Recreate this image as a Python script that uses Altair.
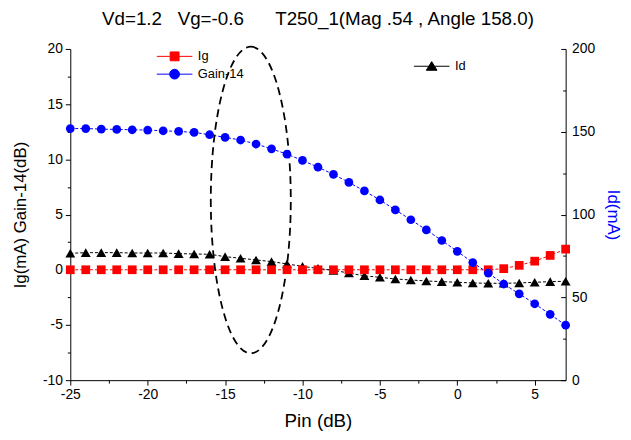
import altair as alt
import pandas as pd

FONT = "Liberation Sans"

pin = [-25, -24, -23, -22, -21, -20, -19, -18, -17, -16, -15, -14, -13, -12, -11, -10,
       -9, -8, -7, -6, -5, -4, -3, -2, -1, 0, 1, 2, 3, 4, 5, 6, 7]
ig = [0.0] * 28 + [0.1, 0.4, 0.78, 1.3, 1.87]
gain = [12.79, 12.79, 12.74, 12.71, 12.68, 12.65, 12.59, 12.53, 12.44, 12.23, 11.99, 11.75,
        11.39, 10.95, 10.47, 9.90, 9.29, 8.64, 7.91, 7.14, 6.32, 5.42, 4.53, 3.61, 2.65,
        1.67, 0.65, -0.30, -1.29, -2.18, -3.08, -4.04, -5.02]
id_ma = [76.6, 77.0, 77.0, 77.0, 76.8, 76.8, 76.8, 76.4, 76.2, 76.0, 74.6, 73.6, 72.6,
         71.6, 70.2, 68.7, 67.5, 66.3, 64.7, 63.0, 62.1, 61.1, 60.5, 59.9, 59.5, 59.1,
         58.7, 58.5, 58.5, 58.7, 59.1, 59.5, 59.7]

series_left = ["Ig", "Gain-14"]
colors_left = ["#ff0000", "#0000ff"]
series_right = ["Id"]
colors_right = ["#000000"]

x_major = [-25, -20, -15, -10, -5, 0, 5]
x_minor = [-22.5, -17.5, -12.5, -7.5, -2.5, 2.5]
yl_major = [-10, -5, 0, 5, 10, 15, 20]
yl_minor = [-7.5, -2.5, 2.5, 7.5, 12.5, 17.5]
yr_major = [0, 50, 100, 150, 200]
yr_minor = [25, 75, 125, 175]

# dashed ellipse annotation (centre in data units)
ell_x = [-13.34]
ell_y = [6.32]

NB = "\u00a0"
title_text = "Vd=1.2" + NB * 3 + "Vg=-0.6" + NB * 6 + "T250_1(Mag .54 , Angle 158.0)"

left_df = pd.DataFrame({
    "Pin": pin + pin,
    "val": ig + gain,
    "series": ["Ig"] * len(pin) + ["Gain-14"] * len(pin),
})
right_df = pd.DataFrame({"Pin": pin, "val": id_ma, "series": ["Id"] * len(pin)})
ell_df = pd.DataFrame({"cx": ell_x, "cy": ell_y})

XS = alt.Scale(domain=[-25, 7], nice=False, zero=False)
YL = alt.Scale(domain=[-10, 20], nice=False, zero=False)
YR = alt.Scale(domain=[0, 200], nice=False, zero=False)

ELLIPSE = ("M0,-1C0.1441,-1 0.261,-0.5523 0.261,0C0.261,0.5523 0.1441,1 0,1"
           "C-0.1441,1 -0.261,0.5523 -0.261,0C-0.261,-0.5523 -0.1441,-1 0,-1Z")
SQ = "M-2,0H2M-0.5,-0.5H0.5V0.5H-0.5Z"
CI = ("M-2,0H2M0.55,0C0.55,0.304 0.304,0.55 0,0.55C-0.304,0.55 -0.55,0.304 -0.55,0"
      "C-0.55,-0.304 -0.304,-0.55 0,-0.55C0.304,-0.55 0.55,-0.304 0.55,0Z")
TR = "M-2,0H2M0,-0.52L0.6,0.45L-0.6,0.45Z"

TICK_FS = 14
LEG_FS = 13
LABEL_EXPR = "'' + datum.value"

x_axis = alt.Axis(values=x_major, title="Pin (dB)", orient="bottom", tickSize=5,
                  labelFontSize=TICK_FS, titleFontSize=19, labelPadding=3,
                  titlePadding=10, grid=False, labelFlush=False, labelExpr=LABEL_EXPR)
x_minor_axis = alt.Axis(values=x_minor, title="", orient="bottom", labels=False,
                        domain=False, tickSize=3, grid=False)
yl_axis = alt.Axis(values=yl_major, title="Ig(mA) Gain-14(dB)", orient="left", tickSize=5,
                   labelFontSize=TICK_FS, titleFontSize=17, labelPadding=3,
                   titlePadding=13, grid=False, labelExpr=LABEL_EXPR)
yl_minor_axis = alt.Axis(values=yl_minor, title="", orient="left", labels=False,
                         domain=False, tickSize=3, grid=False)
yr_axis = alt.Axis(values=yr_major, title="Id(mA)", orient="right", ticks=False,
                   labelFontSize=TICK_FS, titleFontSize=17, labelPadding=6,
                   titlePadding=9, titleColor="#0000ff", grid=False, labelExpr=LABEL_EXPR)
yr_major_ticks = alt.Axis(values=yr_major, title="", orient="right", labels=False,
                          domain=False, tickSize=5, offset=-5, grid=False)
yr_minor_ticks = alt.Axis(values=yr_minor, title="", orient="right", labels=False,
                          domain=False, tickSize=3, offset=-3, grid=False)


def legend(x, y):
    return alt.Legend(orient="none", legendX=x, legendY=y, title=None,
                      labelFontSize=LEG_FS, labelFont=FONT, symbolSize=324,
                      labelOffset=14, padding=0, rowPadding=1, symbolStrokeWidth=1)


LEG_L = legend(96, -2)
LEG_R = legend(356, 8)

col_l = alt.Scale(domain=series_left, range=colors_left)
col_r = alt.Scale(domain=series_right, range=colors_right)

ellipse = alt.Chart(ell_df).mark_point(
    shape=ELLIPSE, size=96100, filled=False, stroke="black", strokeWidth=1.8,
    strokeDash=[8, 5], opacity=1
).encode(
    x=alt.X("cx:Q", scale=XS, axis=None),
    y=alt.Y("cy:Q", scale=YL, axis=None),
)

left_lines = alt.Chart(left_df).mark_line(strokeWidth=1, strokeDash=[3, 2]).encode(
    x=alt.X("Pin:Q", scale=XS, axis=x_axis),
    y=alt.Y("val:Q", scale=YL, axis=yl_axis),
    color=alt.Color("series:N", scale=col_l, legend=None),
)
left_points = alt.Chart(left_df).mark_point(filled=True, opacity=1, size=78).encode(
    x=alt.X("Pin:Q", scale=XS, axis=None),
    y=alt.Y("val:Q", scale=YL, axis=None),
    color=alt.Color("series:N", scale=col_l, legend=None),
    shape=alt.Shape("series:N", scale=alt.Scale(domain=series_left, range=["square", "circle"]),
                    legend=None),
)
left_legend = alt.Chart(left_df).transform_filter("false").mark_point(
    filled=True, size=324, opacity=1
).encode(
    fill=alt.Fill("series:N", scale=col_l, legend=LEG_L),
    stroke=alt.Stroke("series:N", scale=col_l, legend=LEG_L),
    shape=alt.Shape("series:N", scale=alt.Scale(domain=series_left, range=[SQ, CI]),
                    legend=LEG_L),
)
yl_minor_layer = alt.Chart(left_df).transform_filter("false").mark_point(opacity=0).encode(
    y=alt.Y("val:Q", scale=YL, axis=yl_minor_axis),
)
x_minor_layer = alt.Chart(left_df).transform_filter("false").mark_point(opacity=0).encode(
    x=alt.X("Pin:Q", scale=XS, axis=x_minor_axis),
)

right_lines = alt.Chart(right_df).mark_line(strokeWidth=1, strokeDash=[3, 2]).encode(
    x=alt.X("Pin:Q", scale=XS, axis=None),
    y=alt.Y("val:Q", scale=YR, axis=yr_axis),
    color=alt.Color("series:N", scale=col_r, legend=None),
)
right_points = alt.Chart(right_df).mark_point(filled=True, opacity=1, size=100,
                                             shape="triangle-up").encode(
    x=alt.X("Pin:Q", scale=XS, axis=None),
    y=alt.Y("val:Q", scale=YR, axis=None),
    color=alt.Color("series:N", scale=col_r, legend=None),
)
right_legend = alt.Chart(right_df).transform_filter("false").mark_point(
    filled=True, size=324, opacity=1
).encode(
    fill=alt.Fill("series:N", scale=col_r, legend=LEG_R),
    stroke=alt.Stroke("series:N", scale=col_r, legend=LEG_R),
    shape=alt.Shape("series:N", scale=alt.Scale(domain=series_right, range=[TR]),
                    legend=LEG_R),
)
yr_major_layer = alt.Chart(right_df).transform_filter("false").mark_point(opacity=0).encode(
    y=alt.Y("val:Q", scale=YR, axis=yr_major_ticks),
)
yr_minor_layer = alt.Chart(right_df).transform_filter("false").mark_point(opacity=0).encode(
    y=alt.Y("val:Q", scale=YR, axis=yr_minor_ticks),
)

chart = alt.layer(
    left_lines, x_minor_layer, yl_minor_layer, yr_major_layer, yr_minor_layer,
    right_lines, ellipse, right_points, left_points,
    left_legend, right_legend,
).resolve_scale(
    y="independent", color="independent", fill="independent",
    stroke="independent", shape="independent",
).resolve_axis(
    x="independent", y="independent",
).resolve_legend(
    fill="independent", stroke="independent", shape="independent", color="independent",
).properties(
    width=501, height=335,
    padding={"left": 63, "top": 39, "right": 58, "bottom": 50},
    autosize=alt.AutoSizeParams(type="none"),
    title=alt.TitleParams(text=title_text, fontSize=19, fontWeight="normal",
                          font=FONT, color="black", offset=13, anchor="middle"),
).configure(
    font=FONT,
).configure_view(
    stroke=None,
).configure_axis(
    domainColor="black", tickColor="black", labelColor="black", titleColor="black",
    labelFont=FONT, titleFont=FONT, titleFontWeight="normal", domainWidth=1,
    tickWidth=1,
).configure_legend(
    labelColor="black",
)

chart.save("out.html", embed_options={"renderer": "svg", "actions": False})
